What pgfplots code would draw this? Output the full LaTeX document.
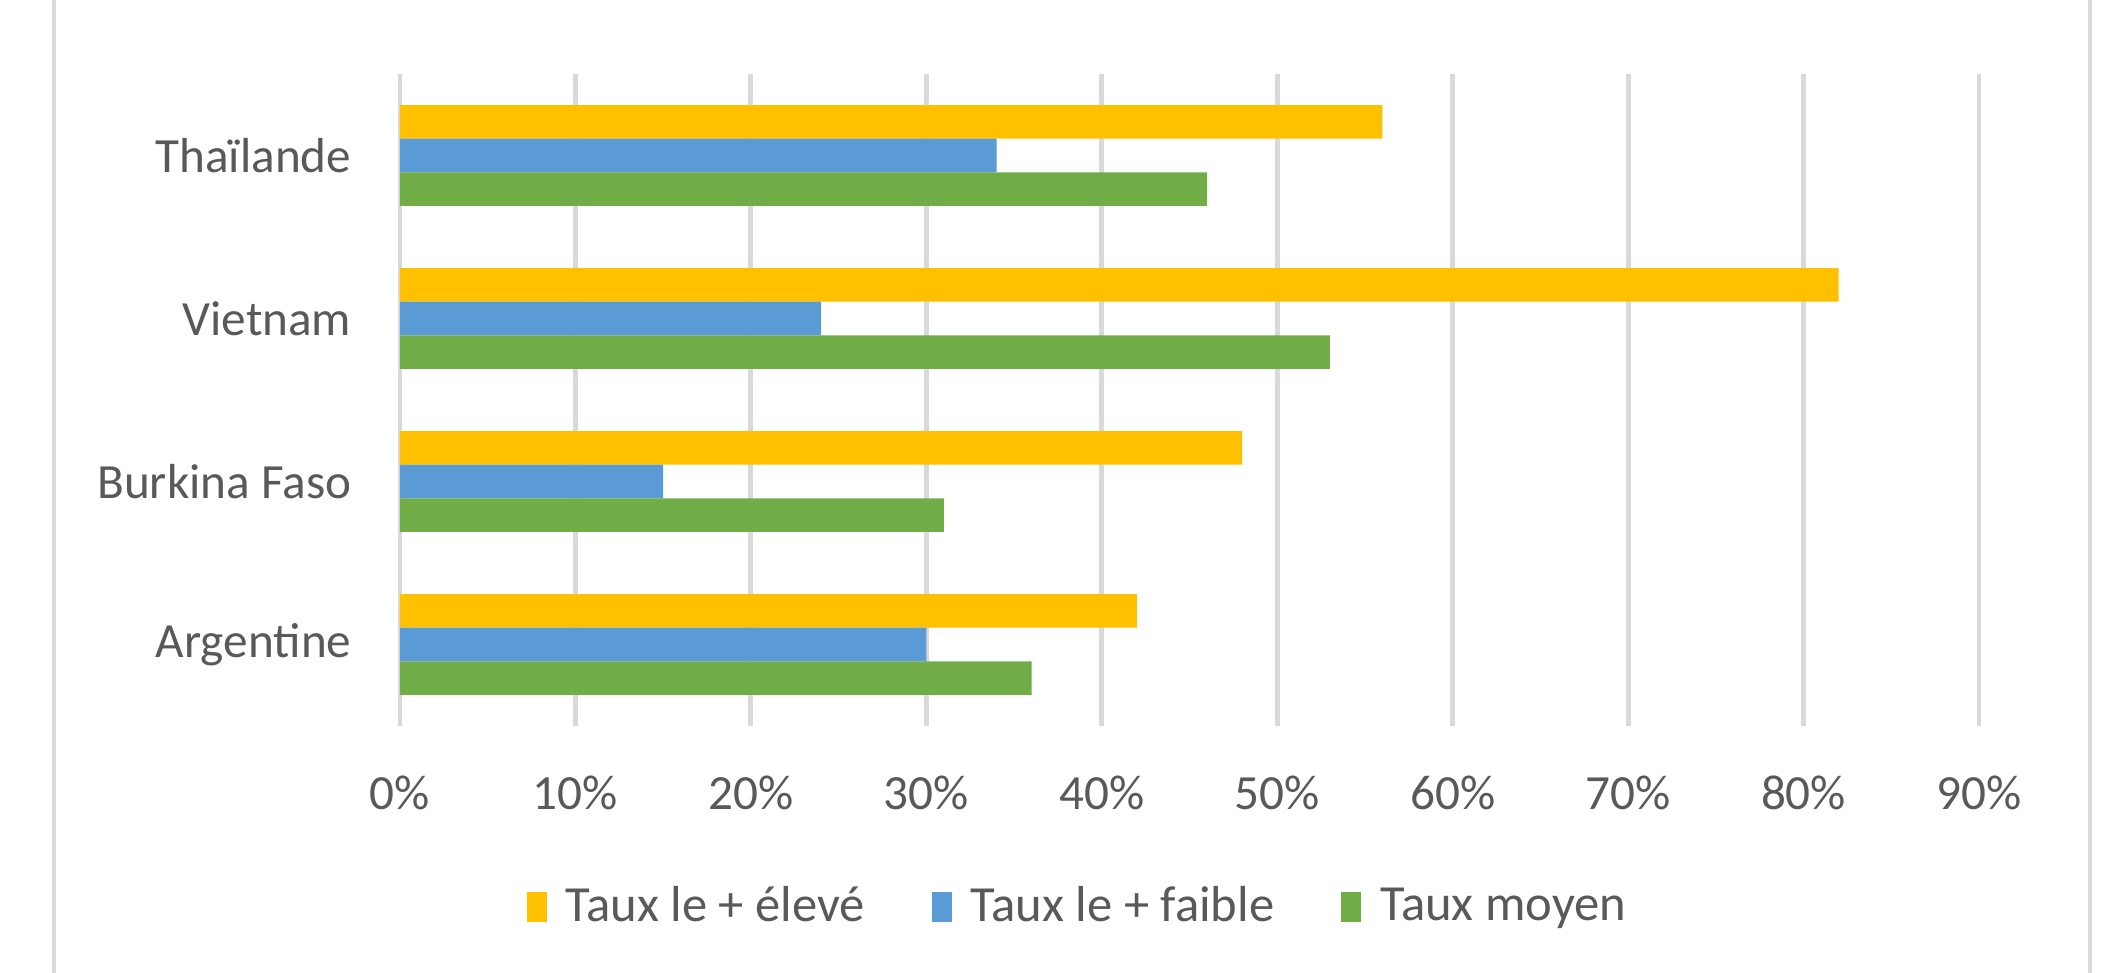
\documentclass[border=0pt]{standalone}
\usepackage{pgfplots}
\pgfplotsset{compat=1.18}
\usepackage{fontspec}
\setmainfont{Carlito}
\definecolor{cYellow}{HTML}{FFC000}
\definecolor{cBlue}{HTML}{5B9BD5}
\definecolor{cGreen}{HTML}{70AD47}
\definecolor{gridgray}{HTML}{D9D9D9}
\definecolor{textgray}{HTML}{595959}
\begin{document}
\begin{tikzpicture}
\path[use as bounding box] (-4.00cm,-2.47cm) rectangle (17.07cm,7.26cm);
% chart border (left and right edges visible)
\draw[gridgray, line width=1.2pt] (-3.46cm,-2.47cm) -- (-3.46cm,7.26cm);
\draw[gridgray, line width=1.2pt] (16.90cm,-2.47cm) -- (16.90cm,7.26cm);
\begin{axis}[
    at={(0,0)}, anchor=south west,
    scale only axis,
    width=15.79cm, height=6.52cm,
    xbar, bar width=0.336cm,
    xmin=0, xmax=90, ymin=-0.5, ymax=3.5,
    xtick={0,10,...,90},
    xticklabel={\pgfmathprintnumber{\tick}\%},
    /pgf/number format/assume math mode=true,
    ytick={0,1,2,3},
    yticklabels={Argentine, Burkina Faso, Vietnam, Thaïlande},
    xmajorgrids,
    grid style={line width=1.4pt, gridgray},
    axis line style={draw=none},
    major tick length=0pt,
    tick label style={textgray, font=\fontsize{14}{16}\selectfont},
    xticklabel style={anchor=center, yshift=-0.67cm},
    yticklabel style={anchor=east, inner sep=0pt, xshift=-0.48cm},
    legend columns=3,
    legend style={draw=none, at={(0.4307,-0.2776)}, anchor=center,
        font=\fontsize{14.4}{16}\selectfont, text=textgray,
        /tikz/every odd column/.append style={column sep=0.12cm},
        /tikz/every even column/.append style={column sep=0.6cm}},
    legend image code/.code={\fill[#1] (0cm,-0.15cm) rectangle (0.2cm,0.15cm);},
]
\addplot[fill=cYellow, draw=none, bar shift=0.336cm] coordinates {
    (42,0) (48,1) (82,2) (56,3)
};
\addplot[fill=cBlue, draw=none, bar shift=0cm] coordinates {
    (30,0) (15,1) (24,2) (34,3)
};
\addplot[fill=cGreen, draw=none, bar shift=-0.336cm] coordinates {
    (36,0) (31,1) (53,2) (46,3)
};
\legend{Taux le + élevé, Taux le + faible, Taux moyen}
\end{axis}
\end{tikzpicture}
\end{document}
